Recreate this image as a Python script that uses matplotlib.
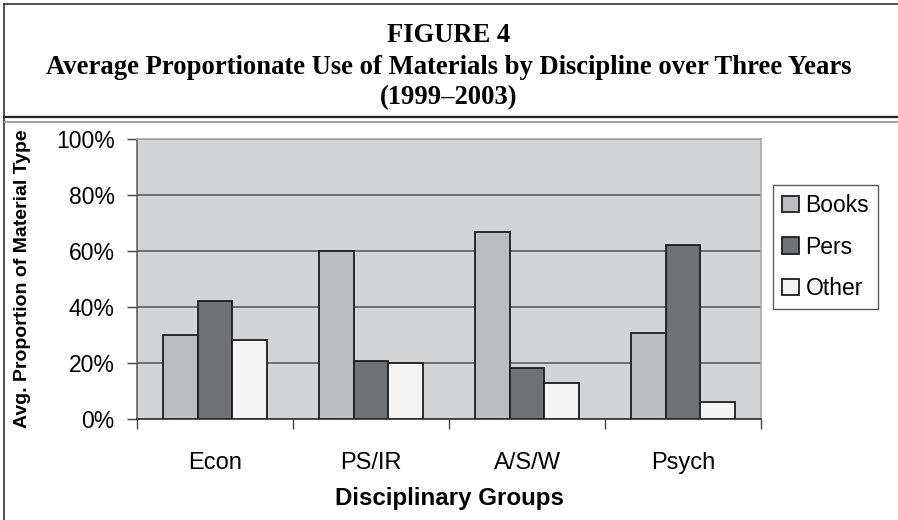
import matplotlib
matplotlib.use("Agg")
import matplotlib.pyplot as plt
from matplotlib.lines import Line2D
import numpy as np

categories = ["Econ", "PS/IR", "A/S/W", "Psych"]
books = [30.1, 60.0, 66.8, 30.7]
pers = [42.1, 20.7, 18.2, 62.1]
other = [28.2, 20.0, 12.9, 6.1]
series_names = ["Books", "Pers", "Other"]
yticks = [0, 20, 40, 60, 80, 100]
ytick_labels = ["0%", "20%", "40%", "60%", "80%", "100%"]

W, H = 898, 520
fig = plt.figure(figsize=(W / 100, H / 100), dpi=100)
fig.patch.set_facecolor("white")

def fx(px):
    return px / W

def fy(py):
    return 1 - py / H

# axes placement (pixel coords)
L, R, T, B = 137, 761, 139, 419
ax = fig.add_axes([fx(L), fy(B), fx(R - L), (B - T) / H])
ax.set_facecolor("#d3d4d6")

colors = ["#bcbdc1", "#707175", "#f4f4f4"]
w = 0.222
x = np.arange(len(categories))
for i, (vals, c, name) in enumerate(zip([books, pers, other], colors, series_names)):
    ax.bar(x + (i - 1) * w, vals, width=w, color=c, edgecolor="#1e1e1e",
           linewidth=1.3, label=name, zorder=3)

ax.set_xlim(-0.5, len(categories) - 0.5)
ax.set_ylim(0, 100)
ax.set_yticks(yticks)
ax.set_yticklabels(ytick_labels)
ax.yaxis.grid(True, color="#555555", linewidth=1.1, zorder=1)
ax.set_axisbelow(True)

# x ticks at category boundaries, labels at centers
ax.set_xticks(np.arange(-0.5, len(categories), 1.0))
ax.set_xticklabels([])
ax.set_xticks(x, minor=True)
ax.set_xticklabels(categories, minor=True)
ax.tick_params(axis="x", which="minor", length=0, pad=24, labelsize=17)
ax.tick_params(axis="x", which="major", length=7, width=1.0, color="#444444", direction="out")
ax.tick_params(axis="y", length=7, width=1.0, color="#444444", direction="out", pad=9, labelsize=16.5)
for lab in ax.get_xticklabels(minor=True) + ax.get_yticklabels():
    lab.set_fontfamily("Liberation Sans")

ax.spines["left"].set_color("#555555")
ax.spines["left"].set_linewidth(1.1)
ax.spines["bottom"].set_color("#333333")
ax.spines["bottom"].set_linewidth(1.2)
ax.spines["top"].set_color("#a8a8a8")
ax.spines["top"].set_linewidth(1.2)
ax.spines["right"].set_color("#a8a8a8")
ax.spines["right"].set_linewidth(1.2)

ax.set_xlabel("Disciplinary Groups", fontsize=17.4, fontweight="bold",
              fontfamily="Liberation Sans", labelpad=9)
ax.set_ylabel("Avg. Proportion of Material Type", fontsize=14, fontweight="bold",
              fontfamily="Liberation Sans")
ax.yaxis.set_label_coords((31 - L) / (R - L), 0.5)

leg = fig.legend(loc="upper left", bbox_to_anchor=(fx(773), fy(185)),
                 borderaxespad=0, frameon=True, fancybox=False,
                 prop={"family": "Liberation Sans", "size": 16.5},
                 handlelength=0.72, handleheight=0.72, handletextpad=0.3,
                 labelspacing=0.8, borderpad=0.4)
leg.get_frame().set_edgecolor("#333333")
leg.get_frame().set_linewidth(1.0)

# titles
title_lines = ["FIGURE 4",
               "Average Proportionate Use of Materials by Discipline over Three Years",
               "(1999\u20132003)"]
for t, yc in zip(title_lines, [35, 67, 98]):
    fig.text(0.5, fy(yc), t, ha="center", va="center", fontsize=19.2,
             fontweight="bold", fontfamily="Liberation Serif")

# frame lines
fig.add_artist(Line2D([fx(4), 1], [fy(4), fy(4)], color="#333333", linewidth=1.2))
fig.add_artist(Line2D([fx(4), fx(4)], [fy(4), 0], color="#333333", linewidth=1.2))
fig.add_artist(Line2D([fx(4), 1], [fy(117), fy(117)], color="#222222", linewidth=1.6))
fig.add_artist(Line2D([fx(4), 1], [fy(121.5), fy(121.5)], color="#8a8a8a", linewidth=1.1))

fig.savefig("out.png", dpi=100, facecolor="white")
